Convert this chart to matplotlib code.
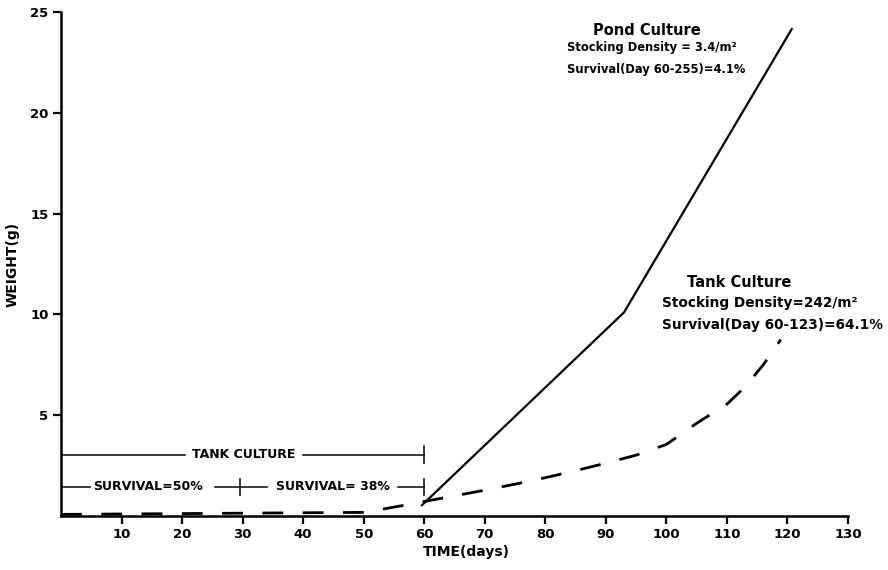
import matplotlib
matplotlib.use("Agg")
import matplotlib.pyplot as plt

# ---- data ----
pond_days = [59.5, 93, 120.8]
pond_weight = [0.5, 10.1, 24.2]

tank_days = [0, 10, 20, 30, 40, 50, 53.5, 57, 60, 65, 70, 75, 80, 85, 90, 95, 100, 105, 110, 113, 116, 118.9]
tank_weight = [0.08, 0.1, 0.12, 0.14, 0.16, 0.18, 0.36, 0.55, 0.72, 1.0, 1.28, 1.58, 1.9, 2.25, 2.62, 3.02, 3.55, 4.6, 5.55, 6.4, 7.5, 8.75]

x_ticks = [10, 20, 30, 40, 50, 60, 70, 80, 90, 100, 110, 120, 130]
y_ticks = [5, 10, 15, 20, 25]

# ---- figure ----
fig = plt.figure(figsize=(8.88, 5.7), dpi=100)
ax = fig.add_axes([61/888, 1-516/570, (848-61)/888, (516-12)/570])
FONT = "DejaVu Sans"

ax.plot(pond_days, pond_weight, color="black", lw=1.6, solid_capstyle="butt")
ax.plot(tank_days, tank_weight, color="black", lw=2.0, linestyle=(0, (7.5, 7)))

ax.set_xlim(0, 130)
ax.set_ylim(0, 25)
ax.set_xticks(x_ticks)
ax.set_yticks(y_ticks)
ax.set_xticklabels([str(v) for v in x_ticks], fontsize=9.5, fontweight="bold", family=FONT)
ax.set_yticklabels([str(v) for v in y_ticks], fontsize=9.5, fontweight="bold", family=FONT)
ax.tick_params(direction="out", length=6, width=1.6, pad=3)
for s in ["top", "right"]:
    ax.spines[s].set_visible(False)
for s in ["left", "bottom"]:
    ax.spines[s].set_linewidth(1.8)

ax.set_xlabel("TIME(days)", fontsize=10, fontweight="bold", family=FONT)
ax.xaxis.set_label_coords(0.515, -0.058)
ax.set_ylabel("WEIGHT(g)", fontsize=10, fontweight="bold", family=FONT)
ax.yaxis.set_label_coords(-0.053, 0.5)

# ---- bracket annotations (lower left) ----
lw_b = 1.1
y_tc = 3.05
ax.plot([0, 20.5], [y_tc, y_tc], color="black", lw=lw_b)
ax.plot([40, 60], [y_tc, y_tc], color="black", lw=lw_b)
ax.plot([60, 60], [y_tc-0.4, y_tc+0.4], color="black", lw=lw_b)
ax.text(30.2, y_tc, "TANK CULTURE", fontsize=9, fontweight="bold", family=FONT,
        ha="center", va="center")

y_sv = 1.45
ax.plot([0, 4.8], [y_sv, y_sv], color="black", lw=lw_b)
ax.plot([25.5, 34], [y_sv, y_sv], color="black", lw=lw_b)
ax.plot([29.6, 29.6], [y_sv-0.4, y_sv+0.4], color="black", lw=lw_b)
ax.plot([55.7, 60], [y_sv, y_sv], color="black", lw=lw_b)
ax.plot([60, 60], [y_sv-0.4, y_sv+0.4], color="black", lw=lw_b)
ax.text(14.4, y_sv, "SURVIVAL=50%", fontsize=9, fontweight="bold", family=FONT,
        ha="center", va="center")
ax.text(45.0, y_sv, "SURVIVAL= 38%", fontsize=9, fontweight="bold", family=FONT,
        ha="center", va="center")

# ---- culture labels ----
ax.text(96.8, 24.1, "Pond Culture", fontsize=10.5, fontweight="bold", family=FONT,
        ha="center", va="center")
ax.text(83.6, 23.25, "Stocking Density = 3.4/m²", fontsize=8.3, fontweight="bold", family=FONT,
        ha="left", va="center")
ax.text(83.6, 22.15, "Survival(Day 60-255)=4.1%", fontsize=8.3, fontweight="bold", family=FONT,
        ha="left", va="center")

ax.text(112.1, 11.6, "Tank Culture", fontsize=10.5, fontweight="bold", family=FONT,
        ha="center", va="center")
ax.text(99.3, 10.57, "Stocking Density=242/m²", fontsize=9.8, fontweight="bold", family=FONT,
        ha="left", va="center")
ax.text(99.3, 9.47, "Survival(Day 60-123)=64.1%", fontsize=9.8, fontweight="bold", family=FONT,
        ha="left", va="center")

fig.savefig("out.png", dpi=100)
